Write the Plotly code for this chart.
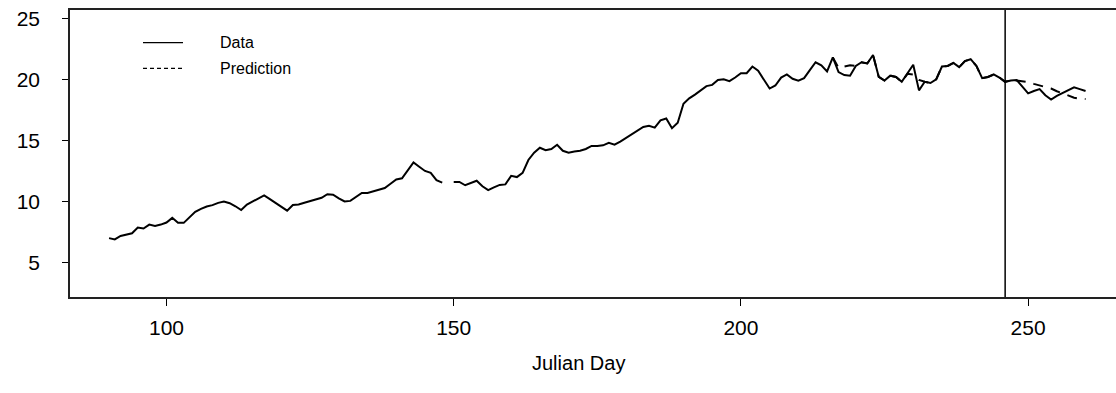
import plotly.graph_objects as go

# Daily mean water temperature by Julian day (None = missing observation)
julian_day = list(range(90, 261))
temperature = [
    7.0, 6.9, 7.18, 7.3, 7.4, 7.87, 7.79, 8.11, 8.0, 8.11,          # 90-99
    8.28, 8.66, 8.25, 8.25, 8.66, 9.15, 9.4, 9.59, 9.7, 9.89,       # 100-109
    10.0, 9.86, 9.61, 9.3, 9.75, 10.0, 10.25, 10.5, 10.2, 9.9,      # 110-119
    9.6, 9.25, 9.72, 9.75, 9.9, 10.05, 10.15, 10.3, 10.6, 10.55,    # 120-129
    10.25, 10.0, 10.05, 10.35, 10.7, 10.7, 10.85, 11.0, 11.1, 11.45,  # 130-139
    11.8, 11.9, 12.55, 13.2, 12.85, 12.5, 12.35, 11.75, 11.55, None,  # 140-149
    11.6, 11.6, 11.33, 11.5, 11.7, 11.25, 10.93, 11.15, 11.36, 11.4,  # 150-159
    12.1, 12.0, 12.35, 13.4, 14.0, 14.4, 14.2, 14.3, 14.65, 14.15,  # 160-169
    14.0, 14.1, 14.15, 14.3, 14.55, 14.55, 14.6, 14.8, 14.65, 14.9,  # 170-179
    15.2, 15.55, 15.8, 16.1, 16.2, 16.05, 16.65, 16.8, 16.0, 16.45,  # 180-189
    18.0, 18.45, 18.75, 19.1, 19.45, 19.55, 19.95, 20.0, 19.85, 20.15,  # 190-199
    20.5, 20.5, 21.05, 20.7, 20.0, 19.25, 19.5, 20.15, 20.4, 20.05,  # 200-209
    19.9, 20.1, 20.75, 21.4, 21.15, 20.65, 21.8, 20.6, 20.35, 20.3,  # 210-219
    21.1, 21.4, 21.3, 22.0, 20.2, 19.9, 20.3, 20.2, 19.8, 20.45,    # 220-229
    21.2, 19.1, 19.8, 19.7, 20.0, 21.05, 21.1, 21.35, 21.0, 21.5,   # 230-239
    21.65, 21.1, 20.1, 20.2, 20.4, 20.15, 19.8, 19.9, 19.95, 19.4,  # 240-249
    18.85, 19.05, 19.2, 18.7, 18.35, 18.65, 18.9, 19.1, 19.35, 19.2,  # 250-259
    19.05,                                                          # 260
]

# Model prediction, days 216-260
pred_day = list(range(216, 261))
prediction = [
    21.8, 20.95, 21.05, 21.15, 21.1, 21.4, 21.3, 22.0, 20.2, 19.9,  # 216-225
    20.3, 20.2, 19.8, 20.45, 20.4, 19.95, 19.8, 19.7, 20.0, 21.05,  # 226-235
    21.1, 21.35, 21.0, 21.5, 21.65, 21.1, 20.1, 20.2, 20.4, 20.15,  # 236-245
    19.8, 19.95, 19.9, 19.87, 19.78, 19.63, 19.52, 19.41, 19.25, 19.03,  # 246-255
    18.87, 18.7, 18.5, 18.41, 18.39,                                 # 256-260
]

forecast_start = 246
x_ticks = [100, 150, 200, 250]
y_ticks = [5, 10, 15, 20, 25]

W, H = 1116, 393
L, R, T, B = 70, 0, 10, 96
FONT = "Liberation Sans, Arial, sans-serif"


def px_x(p):
    return (p - L) / (W - L - R)


def px_y(p):
    return (H - B - p) / (H - T - B)


fig = go.Figure()
fig.add_trace(go.Scatter(
    x=julian_day, y=temperature, mode="lines",
    line=dict(color="black", width=2), connectgaps=False,
    name="Data", showlegend=False, hoverinfo="skip",
))
fig.add_trace(go.Scatter(
    x=pred_day, y=prediction, mode="lines",
    line=dict(color="black", width=2, dash="10px,8px"),
    name="Prediction", showlegend=False, hoverinfo="skip",
))

# Start of the forecast period
fig.add_vline(x=forecast_start, line=dict(color="black", width=1.5))

# Legend, top left of the panel
for y_px, dash, label in [(42.7, "solid", "Data"), (68.3, "4px,3px", "Prediction")]:
    fig.add_shape(type="line", xref="paper", yref="paper",
                  x0=px_x(143), x1=px_x(183), y0=px_y(y_px), y1=px_y(y_px),
                  line=dict(color="black", width=1.2, dash=dash))
    fig.add_annotation(xref="paper", yref="paper", x=px_x(218), y=px_y(y_px),
                       text=label, showarrow=False, xanchor="left", yanchor="middle",
                       font=dict(family=FONT, size=16, color="black"))

fig.add_annotation(xref="paper", yref="paper", x=px_x(578), y=px_y(363),
                   text="Julian Day", showarrow=False, xanchor="center", yanchor="middle",
                   font=dict(family=FONT, size=20, color="black"))

fig.update_layout(
    width=W, height=H,
    margin=dict(l=L, r=R, t=T, b=B),
    paper_bgcolor="white", plot_bgcolor="white",
    font=dict(family=FONT, size=21, color="black"),
    showlegend=False,
    xaxis=dict(range=[83.2, 265.3], tickvals=x_ticks, ticks="outside", ticklen=7,
               tickwidth=1.2, tickcolor="black", showgrid=False, zeroline=False,
               showline=True, linecolor="#222", linewidth=1.5, mirror=True,
               ticklabelstandoff=4),
    yaxis=dict(range=[2.18, 25.68], tickvals=y_ticks, ticks="outside", ticklen=6,
               tickwidth=1.2, tickcolor="black", showgrid=False, zeroline=False,
               showline=True, linecolor="#222", linewidth=1.5, mirror=False,
               ticklabelstandoff=18),
)

fig.write_html("out.html")
